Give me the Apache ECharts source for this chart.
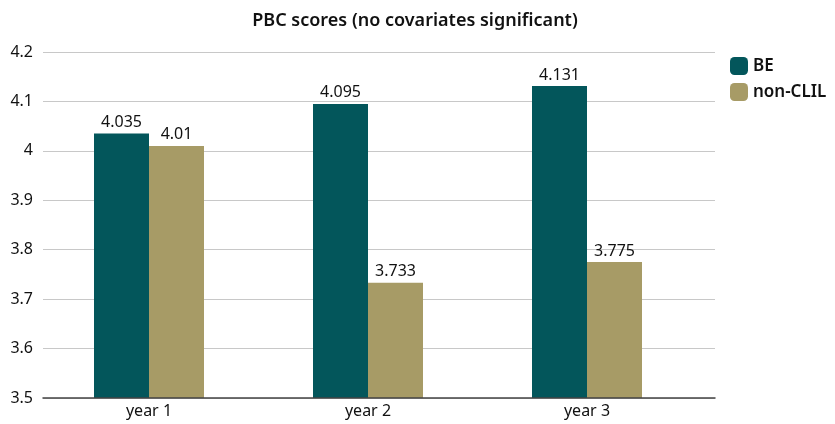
<!DOCTYPE html>
<html lang="en">
<head>
    <meta charset="UTF-8">
    <title>PBC scores</title>
    <script src="https://cdn.jsdelivr.net/npm/echarts@6/dist/echarts.min.js"></script>
</head>
<body style="margin:0">
<div id="myChart" style="width: 835px;height: 424px;"></div>
<script>
    var categories = ['year 1', 'year 2', 'year 3'];
    var seriesNames = ['BE', 'non-CLIL'];
    var beValues = [4.035, 4.095, 4.131];
    var nonClilValues = [4.01, 3.733, 3.775];
    var yTicks = ['3.5', '3.6', '3.7', '3.8', '3.9', '4', '4.1', '4.2'];

    var font = '"Noto Sans", sans-serif';
    var myChart = echarts.init(document.getElementById('myChart'));

    // grid 0 holds the bars, grid 1 only draws the frame (lines run further right)
    var option = {
        animation: false,
        title: {
            text: 'PBC scores (no covariates significant)',
            left: 410,
            textAlign: 'center',
            top: 7,
            textStyle: {fontFamily: font, fontSize: 18, fontWeight: 600, color: '#111'}
        },
        legend: {
            orient: 'vertical',
            left: 725,
            top: 52,
            itemWidth: 18,
            itemHeight: 18,
            itemGap: 8,
            icon: 'roundRect',
            data: seriesNames,
            textStyle: {fontFamily: font, fontSize: 17, fontWeight: 600, color: '#111'}
        },
        grid: [
            {left: 39.5, right: 138.5, top: 52, bottom: 26},
            {left: 43, right: 120, top: 52, bottom: 26}
        ],
        xAxis: [
            {
                type: 'category',
                gridIndex: 0,
                data: categories,
                axisTick: {show: false},
                axisLine: {show: false},
                axisLabel: {fontFamily: font, fontSize: 16, color: '#111', margin: 5}
            },
            {
                type: 'category',
                gridIndex: 1,
                data: categories,
                axisTick: {show: false},
                axisLabel: {show: false},
                axisLine: {lineStyle: {color: '#444', width: 1.5}},
                z: 5
            }
        ],
        yAxis: [
            {
                type: 'value',
                gridIndex: 0,
                min: 3.5,
                max: 4.2,
                interval: 0.1,
                show: false
            },
            {
                type: 'value',
                gridIndex: 1,
                min: 3.5,
                max: 4.2,
                interval: 0.1,
                axisLabel: {
                    fontFamily: font, fontSize: 16, color: '#111', margin: 10,
                    formatter: function (v) {
                        return yTicks[Math.round((v - 3.5) * 10)];
                    }
                },
                splitLine: {lineStyle: {color: '#c8c8c8', width: 1}}
            }
        ],
        series: [
            {
                name: seriesNames[0],
                type: 'bar',
                xAxisIndex: 0,
                yAxisIndex: 0,
                data: beValues,
                barWidth: 55,
                barGap: '0%',
                itemStyle: {color: '#03565B'},
                label: {show: true, position: 'top', fontFamily: font, fontSize: 16, color: '#111', distance: 3}
            },
            {
                name: seriesNames[1],
                type: 'bar',
                xAxisIndex: 0,
                yAxisIndex: 0,
                data: nonClilValues,
                barWidth: 55,
                barGap: '0%',
                itemStyle: {color: '#A79B66'},
                label: {show: true, position: 'top', fontFamily: font, fontSize: 16, color: '#111', distance: 3}
            }
        ]
    };
    myChart.setOption(option);
</script>
</body>
</html>
